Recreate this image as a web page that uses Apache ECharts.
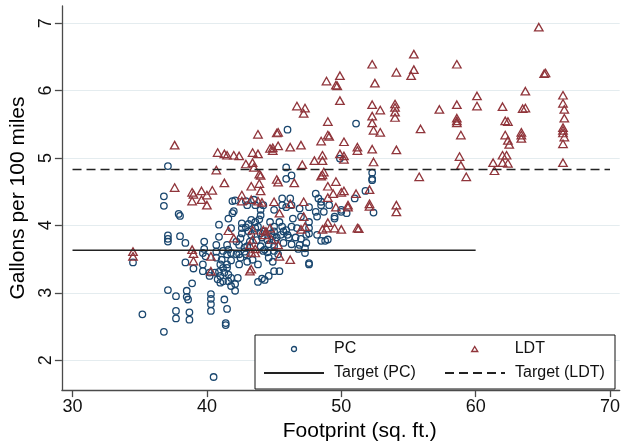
<!DOCTYPE html>
<html>
<head>
<meta charset="utf-8">
<script src="https://cdn.jsdelivr.net/npm/echarts@6/dist/echarts.min.js"></script>
<style>
  html, body { margin: 0; padding: 0; background: #fff; }
  #chart { width: 623px; height: 447px; }
</style>
</head>
<body>
<div id="chart"></div>
<script>
  // footprint (sq. ft.), gallons per 100 miles
  var pcData = [
    [40.5,1.75],[36.8,2.42],[35.2,2.68],[37.7,2.73],[37.7,2.62],[38.7,2.71],[38.7,2.60],
    [37.1,3.04],[37.7,2.95],[38.5,2.94],[38.5,3.03],[38.6,2.90],[38.9,3.14],[34.5,3.45],
    [38.4,3.45],[39.0,3.36],[39.7,3.42],[39.7,3.32],[40.2,3.25],[40.2,3.30],[40.3,2.98],
    [40.3,2.91],[40.3,2.83],[40.3,2.73],[41.3,2.90],[41.5,2.76],[41.4,2.55],[41.4,2.52],
    [40.9,3.31],[41.0,3.25],[41.2,3.17],[41.6,3.17],[41.8,3.10],[42.1,3.03],[41.5,3.37],
    [41.6,3.27],[42.3,3.22],[42.1,3.13],[43.8,3.16],[44.3,3.19],[44.1,3.21],[44.6,3.25],
    [45.0,3.32],[45.4,3.32],[43.8,3.42],[47.6,3.44],[47.6,3.42],[47.3,3.59],[47.3,3.66],
    [46.9,3.71],[46.8,3.65],[47.4,3.74],[48.2,3.86],[48.5,3.77],[48.8,3.77],[49.0,3.79],
    [47.6,3.88],[47.6,3.96],[47.6,4.05],[46.4,4.10],[46.3,3.98],[46.1,3.82],[45.7,3.74],
    [45.2,3.82],[45.0,3.91],[45.0,3.98],[44.3,3.91],[44.1,3.82],[45.3,3.57],[45.0,3.69],
    [44.0,3.69],[44.3,3.64],[43.0,3.69],[43.2,3.76],[42.6,3.96],[42.6,4.03],[42.5,3.81],
    [42.4,3.71],[42.9,3.57],[42.2,3.57],[41.8,3.59],[41.5,3.71],[41.6,3.64],[41.5,3.57],
    [40.7,3.71],[40.7,3.61],[40.7,3.52],[40.9,3.83],[40.9,4.01],[39.8,3.76],[39.8,3.65],
    [39.7,3.59],[39.9,3.54],[38.4,3.74],[38.0,3.84],[37.1,3.85],[37.1,3.80],[37.1,3.76],
    [37.9,4.17],[38.0,4.14],[36.8,4.43],[36.8,4.29],[37.1,4.88],[41.9,4.36],[42.1,4.37],
    [41.9,4.18],[42.0,4.21],[41.6,4.10],[41.8,3.96],[42.9,4.36],[43.0,4.30],[43.5,4.38],
    [43.6,4.30],[44.0,4.23],[44.0,4.15],[44.2,4.30],[45.0,4.23],[45.6,4.40],[45.6,4.30],
    [45.9,4.27],[46.2,4.40],[46.3,4.30],[45.9,4.86],[46.0,5.42],[46.3,4.74],[45.9,4.69],
    [46.9,4.25],[47.0,4.13],[47.6,4.27],[48.1,4.47],[48.3,4.40],[48.5,4.35],[48.5,4.30],
    [48.1,4.20],[48.2,4.13],[48.7,4.20],[49.1,4.30],[49.5,4.13],[49.5,4.10],[50.0,4.20],
    [50.0,4.23],[50.4,4.18],[49.9,4.99],[51.1,5.51],[51.8,4.51],[51.0,4.40],[52.3,4.67],
    [52.3,4.69],[52.3,4.78],[52.4,4.19],[43.6,4.05],[43.9,4.09],[43.6,3.96],[43.1,3.91],
    [43.3,3.86],[44.7,4.05],[44.8,3.88],[45.4,4.05],[45.6,3.98],[45.7,3.91],[46.7,3.96],
    [42.4,3.42],[42.4,3.57],[43.4,3.49],[41.5,3.42],[41.0,3.42],[41.2,3.37],[42.8,3.61],
    [42.6,3.88],[42.9,3.97],[43.1,4.02],[43.3,4.08],[43.8,3.98],[44.0,3.88],[44.5,3.78],
    [44.6,3.72],[44.9,3.84],[45.1,3.77],[45.5,3.86],[45.9,3.93],[46.0,3.86],[42.2,3.76],
    [42.8,3.67],[43.7,3.78],[44.2,3.62],[44.5,3.60],[45.0,3.62],[41.2,3.62],[41.1,3.49],
    [41.8,3.48],[42.5,3.52],[43.0,3.46],[44.6,3.52],[44.9,3.46],[46.3,3.72],[46.6,3.82],
    [47.0,3.80],[47.4,3.86],[41.3,3.30],[41.8,3.22],[41.0,3.15],[40.6,3.30],[40.8,3.20]
  ];
  var ldtData = [
    [64.7,6.94],[55.4,6.54],[55.4,6.31],[55.2,6.22],[52.3,6.39],[54.1,6.27],[52.5,6.11],
    [58.6,6.39],[65.2,6.26],[65.1,6.25],[48.9,6.14],[49.9,6.22],[49.6,6.08],[49.7,6.07],
    [49.9,5.85],[46.7,5.77],[47.3,5.74],[47.2,5.66],[52.3,5.79],[52.9,5.71],[52.3,5.62],
    [52.3,5.52],[52.4,5.41],[52.9,5.38],[54.0,5.80],[54.0,5.75],[54.0,5.68],[54.0,5.60],
    [55.9,5.43],[57.3,5.72],[58.6,5.79],[58.6,5.59],[58.6,5.55],[58.6,5.52],[58.9,5.34],
    [60.1,5.92],[60.1,5.77],[62.0,5.76],[62.2,5.55],[62.4,5.54],[62.2,5.34],[62.4,5.26],
    [62.5,5.20],[63.7,5.99],[63.5,5.73],[63.7,5.74],[63.4,5.38],[63.4,5.34],[63.4,5.29],
    [66.5,5.93],[66.5,5.81],[66.6,5.72],[66.6,5.59],[66.5,5.45],[66.5,5.41],[66.5,5.37],
    [66.6,5.31],[66.5,5.21],[66.5,4.93],[61.3,4.93],[61.4,4.81],[62.0,5.04],[62.3,5.04],
    [62.0,4.93],[62.4,4.92],[58.8,5.02],[58.9,4.89],[59.3,4.72],[55.8,4.72],[54.1,5.12],
    [54.1,4.30],[54.1,4.20],[52.3,5.13],[52.4,4.94],[52.1,4.53],[52.1,4.32],[52.1,4.28],
    [51.2,5.16],[51.2,5.11],[51.2,3.96],[51.3,3.95],[50.2,5.24],[49.9,5.06],[50.2,5.03],
    [50.2,4.98],[49.0,5.54],[49.0,5.34],[49.1,5.32],[48.5,5.25],[48.6,5.04],[48.6,4.96],
    [48.0,4.96],[47.1,4.90],[47.0,5.19],[46.2,5.16],[45.3,5.38],[45.2,5.37],[45.3,5.18],
    [44.9,5.15],[44.7,5.14],[44.9,5.11],[43.8,5.35],[43.8,5.06],[43.4,5.08],[42.9,4.91],
    [43.4,4.93],[43.5,4.86],[43.9,4.76],[44.0,4.74],[40.8,5.08],[41.3,5.06],[41.5,5.04],
    [42.0,5.04],[42.4,5.03],[40.7,4.82],[41.3,4.63],[37.6,5.19],[37.6,4.56],[38.9,4.49],
    [39.0,4.46],[38.9,4.36],[39.6,4.51],[39.6,4.38],[40.0,4.45],[40.4,4.52],[40.0,4.30],
    [42.6,4.45],[42.6,4.36],[43.3,4.58],[43.3,4.38],[43.9,4.62],[44.0,4.51],[43.8,4.36],
    [44.1,4.34],[45.0,4.35],[45.2,4.68],[45.3,4.64],[46.5,4.63],[46.2,4.32],[47.2,4.35],
    [45.4,4.18],[47.2,4.13],[48.5,4.73],[48.6,4.75],[48.7,4.79],[49.6,4.65],[49.0,4.58],
    [49.4,4.47],[50.0,4.49],[50.2,4.51],[49.0,4.41],[49.6,4.27],[50.5,4.30],[50.5,4.27],
    [51.1,4.47],[49.0,4.04],[48.9,3.96],[49.5,3.96],[50.0,3.94],[48.6,3.94],[47.3,3.98],
    [47.0,3.94],[44.7,3.96],[44.2,3.93],[44.4,3.91],[44.3,3.86],[41.6,3.92],[42.0,3.81],
    [43.4,3.93],[43.4,3.79],[43.2,3.71],[43.6,3.65],[43.3,3.60],[43.6,3.59],[45.3,3.71],
    [45.4,3.54],[46.2,3.49],[44.8,3.79],[43.3,3.35],[43.2,3.32],[40.3,3.32],[38.9,3.64],
    [39.0,3.58],[39.0,3.47],[40.3,3.54],[34.5,3.61],[34.5,3.54]
  ];
  var targetPC = [[30, 3.63], [60, 3.63]];
  var targetLDT = [[30, 4.83], [70, 4.83]];
  var xTicks = [30, 40, 50, 60, 70];
  var yTicks = [2, 3, 4, 5, 6, 7];

  var navy = '#1a476f';
  var maroon = '#90353b';
  var font = '"Liberation Sans", Arial, Helvetica, sans-serif';
  var noDot = { color: 'rgba(0,0,0,0)', borderWidth: 0, opacity: 0 };

  var myChart = echarts.init(document.getElementById('chart'));
  var option = {
    animation: false,
    backgroundColor: '#fff',
    grid: { left: 60, right: 0, top: 6, bottom: 53.5 },
    xAxis: {
      type: 'value',
      min: 29.21,
      max: 70.72,
      name: 'Footprint (sq. ft.)',
      nameLocation: 'middle',
      nameGap: 30,
      nameTextStyle: { fontSize: 21, color: '#000', fontFamily: font, padding: [0, 0, 0, 38] },
      axisLine: { show: true, onZero: false, lineStyle: { color: '#4a4a4a', width: 1.3 } },
      axisTick: { show: true, length: 7, customValues: xTicks, lineStyle: { color: '#4a4a4a', width: 1.3 } },
      axisLabel: { customValues: xTicks, fontSize: 18, color: '#111', fontFamily: font, margin: 8 },
      splitLine: { show: false }
    },
    yAxis: {
      type: 'value',
      min: 1.556,
      max: 7.254,
      name: 'Gallons per 100 miles',
      nameLocation: 'middle',
      nameGap: 32,
      nameTextStyle: { fontSize: 21, color: '#000', fontFamily: font },
      axisLine: { show: true, onZero: false, lineStyle: { color: '#4a4a4a', width: 1.3 } },
      axisTick: { show: true, length: 7, customValues: yTicks, lineStyle: { color: '#4a4a4a', width: 1.3 } },
      axisLabel: { customValues: yTicks, rotate: 90, fontSize: 18, color: '#111', fontFamily: font, margin: 7 },
      splitLine: { show: true, lineStyle: { color: '#e4ecef', width: 1 } }
    },
    legend: {
      left: 255,
      top: 335,
      width: 345,
      orient: 'horizontal',
      itemWidth: 60,
      itemHeight: 5,
      itemGap: 6,
      symbolKeepAspect: true,
      padding: [5, 7, 7, 8],
      backgroundColor: '#fff',
      borderColor: '#111',
      borderWidth: 1,
      borderRadius: 0,
      textStyle: { fontSize: 16, color: '#111', fontFamily: font, lineHeight: 18, padding: [0, 0, 0, 5] },
      data: [
        { name: 'PC', icon: 'circle',
          itemStyle: { color: 'rgba(0,0,0,0)', borderColor: navy, borderWidth: 1.3 },
          textStyle: { width: 104 } },
        // the two bare moveTo points stretch the icon box to the full 60 x 5 slot
        { name: 'LDT', icon: 'path://M0,0M60,5M27,5L30,0L33,5Z',
          itemStyle: { color: 'rgba(0,0,0,0)', borderColor: maroon, borderWidth: 1.4 },
          textStyle: { width: 93 } },
        { name: 'Target (PC)', itemStyle: noDot, textStyle: { width: 104 } },
        { name: 'Target (LDT)', itemStyle: noDot, textStyle: { width: 93 } }
      ]
    },
    series: [
      {
        name: 'PC',
        type: 'scatter',
        symbol: 'circle',
        symbolSize: 6.5,
        itemStyle: { color: 'rgba(0,0,0,0)', borderColor: navy, borderWidth: 1.3, opacity: 1 },
        data: pcData
      },
      {
        name: 'LDT',
        type: 'scatter',
        symbol: 'triangle',
        symbolSize: [8.5, 7.5],
        itemStyle: { color: 'rgba(0,0,0,0)', borderColor: maroon, borderWidth: 1.3, opacity: 1 },
        data: ldtData
      },
      {
        name: 'Target (PC)',
        type: 'line',
        symbol: 'none',
        lineStyle: { color: '#222', width: 1.5 },
        itemStyle: { color: '#222' },
        data: targetPC
      },
      {
        name: 'Target (LDT)',
        type: 'line',
        symbol: 'none',
        lineStyle: { color: '#222', width: 1.5, type: [9, 5] },
        itemStyle: { color: '#222' },
        data: targetLDT
      }
    ]
  };
  myChart.setOption(option);
</script>
</body>
</html>
